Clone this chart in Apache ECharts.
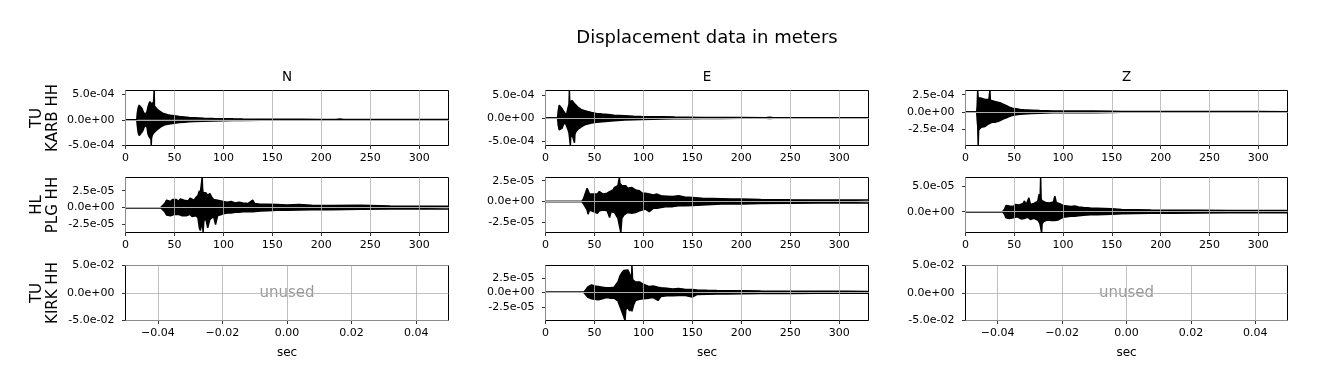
<!DOCTYPE html>
<html><head><meta charset="utf-8">
<script src="https://cdn.jsdelivr.net/npm/echarts@6/dist/echarts.min.js"></script>
<style>html,body{margin:0;padding:0;background:#fff}#c{width:1318px;height:389px}</style>
</head><body><div id="c"></div>
<script>
// ---------------- DATA ----------------
const mainTitle = 'Displacement data in meters';
const rowLabels = ['TU\nKARB HH', 'HL\nPLG HH', 'TU\nKIRK HH'];
const colLabels = ['N', 'E', 'Z'];
const secTicks = [0, 50, 100, 150, 200, 250, 300];
const secRange = [0, 330];
const unusedXTicks = [-0.04, -0.02, 0, 0.02, 0.04];
const unusedYTicks = [-0.05, 0, 0.05];
const unusedRange = [-0.05, 0.05];
const unusedText = 'unused';

// waveform envelopes: [time (s), upper, lower]
// KARB values in units of 1e-4 m
const KARB_N = [[0,0,0],[11.5,0,0],[12,1.2,-1.0],[13,2.4,-2.6],[14,2.9,-3.1],[15,3.1,-3.3],[16,2.6,-2.9],[17,2.2,-2.4],[18,1.6,-2.0],[19,1.4,-1.5],[20,1.0,-1.1],[21,0.7,-0.8],[22,1.6,-1.5],[23,2.6,-2.8],[24,3.2,-3.3],[25,3.6,-3.5],[26,3.3,-3.9],[26.3,3.0,-5.0],[26.6,3.2,-3.6],[27.5,3.4,-3.0],[28.5,3.0,-2.7],[29,2.8,-2.6],[29.3,5.8,-2.5],[29.6,2.7,-2.4],[30.5,2.6,-2.3],[32,2.2,-2.0],[34,1.8,-1.7],[36,1.6,-1.4],[38,1.3,-1.2],[40,1.2,-1.0],[43,1.0,-0.9],[46,0.9,-0.8],[50,0.8,-0.7],[55,0.65,-0.55],[60,0.55,-0.5],[65,0.45,-0.4],[70,0.4,-0.35],[80,0.3,-0.28],[90,0.25,-0.22],[100,0.22,-0.2],[110,0.18,-0.16],[120,0.15,-0.14],[140,0.12,-0.1],[160,0.1,-0.09],[180,0.08,-0.08],[200,0.07,-0.07],[215,0.07,-0.06],[219,0.14,-0.12],[223,0.07,-0.06],[240,0.06,-0.05],[260,0.05,-0.05],[300,0.05,-0.04],[330,0.04,-0.04]];
const KARB_E = [[0,0,0],[12.3,0,0],[13,1.5,-1.5],[14,2.8,-2.6],[15,3.1,-2.8],[16,2.6,-2.5],[17,2.0,-2.2],[18,1.6,-1.6],[19,1.3,-1.2],[20,1.0,-0.9],[21,0.7,-0.7],[22,1.2,-1.3],[23,2.2,-2.5],[24,3.0,-3.2],[24.4,6.0,-3.3],[24.8,3.4,-3.6],[25.4,3.5,-6.0],[25.8,3.8,-3.8],[27,3.8,-3.9],[28,3.5,-4.2],[29.3,3.2,-4.0],[29.6,3.0,-5.4],[30,3.0,-3.6],[31,2.8,-3.0],[33,2.4,-2.5],[35,2.1,-2.2],[37,1.8,-1.9],[40,1.6,-1.5],[43,1.4,-1.3],[47,1.2,-1.1],[52,1.0,-0.95],[58,0.85,-0.8],[64,0.75,-0.7],[70,0.6,-0.6],[81,0.5,-0.45],[90,0.4,-0.38],[98,0.35,-0.32],[110,0.3,-0.27],[120,0.25,-0.22],[132,0.2,-0.18],[145,0.16,-0.15],[160,0.12,-0.11],[180,0.1,-0.09],[200,0.09,-0.08],[225,0.08,-0.07],[229,0.15,-0.1],[233,0.08,-0.07],[260,0.07,-0.06],[300,0.06,-0.05],[330,0.05,-0.05]];
const KARB_Z = [[0,0,0],[11.5,0,0],[12,1.0,-1.2],[12.5,3.1,-2.0],[13,2.0,-4.85],[13.5,1.8,-2.6],[14.5,1.9,-2.4],[16,2.0,-2.2],[18,1.9,-2.3],[20,1.8,-2.1],[22,1.7,-1.9],[24,1.8,-1.7],[25,3.1,-1.7],[25.5,1.7,-1.6],[27,1.6,-1.5],[30,1.5,-1.5],[33,1.4,-1.4],[36,1.3,-1.2],[39,1.1,-1.0],[42,0.9,-0.85],[45,0.7,-0.65],[48,0.55,-0.5],[52,0.45,-0.4],[56,0.35,-0.32],[60,0.3,-0.28],[68,0.25,-0.22],[76,0.2,-0.18],[90,0.15,-0.13],[110,0.13,-0.11],[130,0.12,-0.1],[150,0.11,-0.09],[160,0.07,-0.06],[200,0.06,-0.05],[250,0.05,-0.05],[300,0.05,-0.04],[330,0.04,-0.04]];
// PLG and KIRK values in units of 1e-5 m
const PLG_N = [[0,0,0],[36,0,0],[38,0.3,-0.3],[40,0.6,-0.6],[42,1.1,-1.1],[44,1.2,-1.0],[46,0.9,-1.2],[48,1.2,-1.1],[50,1.0,-1.0],[52,1.2,-1.2],[54,0.9,-1.0],[56,1.3,-1.1],[58,1.5,-1.2],[60,1.1,-1.0],[62,1.3,-1.2],[64,1.0,-1.1],[66,1.4,-1.0],[68,1.2,-1.3],[70,1.1,-1.1],[72,1.5,-1.2],[74,1.8,-1.5],[75.5,2.5,-3.0],[76.5,2.2,-3.4],[77.5,2.4,-3.2],[78.3,4.46,-2.0],[78.8,2.8,-2.2],[79.3,2.2,-3.6],[80,2.0,-2.0],[82,2.2,-1.6],[84,1.8,-3.0],[86,2.1,-1.8],[88,1.6,-1.6],[90,1.2,-1.3],[92,1.4,-2.5],[94,1.1,-1.2],[96,1.0,-1.0],[100,0.9,-0.9],[104,0.8,-0.8],[108,0.9,-0.8],[112,0.7,-0.7],[116,0.8,-0.7],[120,0.7,-0.6],[125,0.6,-0.6],[130,1.1,-0.6],[132,0.6,-0.5],[138,0.5,-0.5],[145,0.5,-0.45],[155,0.45,-0.4],[165,0.4,-0.4],[177,0.45,-0.35],[190,0.35,-0.3],[210,0.3,-0.3],[240,0.35,-0.25],[270,0.25,-0.22],[300,0.22,-0.2],[330,0.2,-0.2]];
const PLG_E = [[0,0,0],[37,0,0],[39,0.4,-0.3],[41,0.6,-0.5],[42.5,1.6,-1.0],[43.5,1.4,-1.5],[45,0.9,-1.0],[47,1.0,-1.1],[49,0.9,-1.2],[51,1.1,-1.0],[53,0.9,-1.4],[55,1.2,-1.1],[57,1.0,-1.3],[59,0.9,-1.0],[61,1.1,-1.2],[63,1.0,-1.1],[65.5,1.2,-1.9],[67,1.1,-1.2],[69,1.4,-1.1],[70.5,1.7,-1.3],[72,1.5,-1.5],[74,1.9,-2.0],[75.5,2.88,-1.8],[76,2.2,-2.2],[77,2.0,-3.69],[78,1.9,-2.0],[80,1.8,-1.6],[82,1.9,-1.5],[84,1.6,-1.3],[86,1.8,-1.5],[88,1.7,-1.4],[90,1.8,-1.4],[92,1.4,-1.3],[94,1.6,-1.2],[96,1.3,-1.1],[99,1.0,-1.0],[102,1.0,-0.9],[106,0.9,-1.2],[110,0.8,-0.8],[114,0.9,-0.8],[118,0.7,-0.7],[124,0.65,-0.6],[130,0.6,-0.6],[136,0.7,-0.5],[142,0.55,-0.5],[150,0.5,-0.45],[160,0.4,-0.4],[170,0.38,-0.35],[180,0.35,-0.3],[190,0.32,-0.3],[201,0.3,-0.28],[220,0.25,-0.22],[250,0.22,-0.2],[280,0.2,-0.18],[310,0.2,-0.18],[330,0.18,-0.16]];
const PLG_Z = [[0,0,0],[38,0,0],[40,0.5,-0.5],[41.5,1.2,-1.2],[43,1.4,-1.5],[45,1.1,-1.3],[47,1.3,-1.1],[49,1.0,-1.2],[51,1.4,-1.3],[53,1.1,-1.0],[55,1.3,-1.2],[57,1.2,-1.4],[59,1.6,-1.2],[60.5,2.1,-1.3],[62,1.3,-1.2],[64,1.5,-1.1],[65,2.7,-1.3],[66.5,1.4,-1.5],[68,1.2,-1.2],[70,1.6,-1.3],[72,1.4,-1.4],[74,2.0,-1.6],[75.5,3.4,-2.0],[76.5,2.5,-2.5],[77,6.64,-2.2],[77.5,2.6,-2.4],[78,2.2,-4.04],[78.5,2.0,-2.4],[80,2.0,-1.9],[82,1.8,-1.8],[84,2.1,-1.6],[86,1.7,-1.8],[88,2.0,-1.7],[90,1.9,-1.6],[91.6,3.0,-1.7],[93,1.8,-1.5],[95,1.6,-1.6],[97,1.5,-1.3],[100,1.2,-1.1],[104,1.1,-1.0],[108,1.0,-0.9],[112,1.1,-0.9],[116,0.9,-0.8],[121,0.8,-0.7],[128,0.7,-0.6],[135,0.65,-0.6],[142,0.6,-0.55],[150,0.55,-0.5],[160,0.45,-0.4],[175,0.4,-0.35],[190,0.35,-0.3],[210,0.3,-0.28],[240,0.28,-0.25],[270,0.25,-0.22],[300,0.25,-0.22],[330,0.22,-0.2]];
const KIRK_E = [[0,0,0],[39,0,0],[41,0.4,-0.3],[43,0.9,-0.8],[45,1.0,-1.0],[47,1.3,-1.1],[48,1.6,-1.0],[50,1.1,-1.2],[52,0.9,-1.0],[54,1.0,-1.3],[56,1.2,-1.0],[58,0.9,-1.1],[60,1.0,-1.0],[62,0.8,-0.9],[64,0.9,-1.1],[66,0.8,-1.0],[68,1.0,-0.9],[70,0.9,-1.0],[72,1.2,-1.1],[74,1.8,-1.5],[76,2.8,-2.4],[78,3.4,-3.3],[80,3.8,-3.0],[81.3,3.9,-4.88],[82,3.8,-3.0],[84,3.9,-2.6],[86,3.2,-3.2],[88,2.4,-2.8],[88.3,4.66,-3.3],[89,2.2,-3.2],[90,2.0,-2.2],[92,1.8,-1.4],[94,1.9,-1.3],[96,1.8,-1.2],[98,1.5,-1.3],[100,1.4,-1.1],[102,1.2,-1.0],[106,1.0,-1.0],[110,1.1,-0.9],[115,0.9,-1.4],[118,0.8,-0.7],[124,0.7,-0.6],[130,0.6,-0.6],[136,0.65,-0.55],[142,0.55,-0.5],[150,0.5,-0.8],[155,0.4,-0.35],[165,0.35,-0.32],[175,0.32,-0.3],[185,0.3,-0.28],[201,0.28,-0.25],[220,0.22,-0.2],[250,0.2,-0.18],[280,0.18,-0.16],[310,0.18,-0.15],[330,0.15,-0.15]];

// y-axis limits (m) and tick values
const KARB_N_yRange = [-5.1e-4, 5.8e-4], KARB_N_yTicks = [-5e-4, 0, 5e-4];
const KARB_E_yRange = [-6.0e-4, 6.0e-4], KARB_E_yTicks = [-5e-4, 0, 5e-4];
const KARB_Z_yRange = [-4.85e-4, 3.1e-4], KARB_Z_yTicks = [-2.5e-4, 0, 2.5e-4];
const PLG_N_yRange = [-3.68e-5, 4.46e-5], PLG_N_yTicks = [-2.5e-5, 0, 2.5e-5];
const PLG_E_yRange = [-3.69e-5, 2.88e-5], PLG_E_yTicks = [-2.5e-5, 0, 2.5e-5];
const PLG_Z_yRange = [-4.04e-5, 6.64e-5], PLG_Z_yTicks = [0, 5e-5];
const KIRK_E_yRange = [-4.88e-5, 4.66e-5], KIRK_E_yTicks = [-2.5e-5, 0, 2.5e-5];

// ---------------- LAYOUT ----------------
const colLeft = [125.5, 545.5, 965.5];
const colWidth = [323, 323, 322];
const rowTop = [90.5, 177.5, 265.5];
const panelH = 55;
const FONT = '"DejaVu Sans", sans-serif';

const panels = [
  {row:0, col:0, env:KARB_N, unit:1e-4, yr:KARB_N_yRange, yt:KARB_N_yTicks},
  {row:0, col:1, env:KARB_E, unit:1e-4, yr:KARB_E_yRange, yt:KARB_E_yTicks},
  {row:0, col:2, env:KARB_Z, unit:1e-4, yr:KARB_Z_yRange, yt:KARB_Z_yTicks},
  {row:1, col:0, env:PLG_N, unit:1e-5, yr:PLG_N_yRange, yt:PLG_N_yTicks},
  {row:1, col:1, env:PLG_E, unit:1e-5, yr:PLG_E_yRange, yt:PLG_E_yTicks},
  {row:1, col:2, env:PLG_Z, unit:1e-5, yr:PLG_Z_yRange, yt:PLG_Z_yTicks},
  {row:2, col:0, unused:true},
  {row:2, col:1, env:KIRK_E, unit:1e-5, yr:KIRK_E_yRange, yt:KIRK_E_yTicks},
  {row:2, col:2, unused:true}
];

function sci(v) {
  if (Math.abs(v) < 1e-15) return '0.0e+00';
  const s = v.toExponential(1);
  return s.replace(/e([+-])(\d)$/, 'e$10$2');
}
function fixed2(v) {
  const s = (Math.abs(v) < 1e-12 ? 0 : v).toFixed(2);
  return s.replace('-', '\u2212');
}

const grids = [], xAxes = [], yAxes = [], series = [];
const tickStyle = {show:true, inside:false, length:3.5, lineStyle:{color:'#000', width:0.8}};
const axisLineStyle = {show:false, onZero:false};
const labelBase = {color:'#000', fontSize:11, fontFamily:FONT};

panels.forEach((p, i) => {
  grids.push({left:colLeft[p.col], top:rowTop[p.row], width:colWidth[p.col], height:panelH,
    show:true, borderColor:'#000', borderWidth:1, backgroundColor:'rgba(0,0,0,0)', containLabel:false});
  const xr = p.unused ? unusedRange : secRange;
  const xt = p.unused ? unusedXTicks : secTicks;
  const yr = p.unused ? unusedRange : p.yr;
  const yt = p.unused ? unusedYTicks : p.yt;
  xAxes.push({type:'value', gridIndex:i, min:xr[0], max:xr[1],
    axisLine:axisLineStyle,
    axisTick:Object.assign({customValues:xt}, tickStyle),
    axisLabel:Object.assign({customValues:xt, margin:7,
      formatter: p.unused ? fixed2 : (v => String(Math.round(v)))}, labelBase),
    splitLine:{show:false},
    name: p.row === 2 ? 'sec' : '', nameLocation:'middle', nameGap:26,
    nameTextStyle:{color:'#000', fontSize:12, fontFamily:FONT}
  });
  yAxes.push({type:'value', gridIndex:i, min:yr[0], max:yr[1],
    axisLine:axisLineStyle,
    axisTick:Object.assign({customValues:yt}, tickStyle),
    axisLabel:Object.assign({customValues:yt, margin:11, formatter:sci}, labelBase),
    splitLine:{show:false},
    name: p.col === 0 ? rowLabels[p.row] : '', nameLocation:'middle', nameRotate:90, nameGap:64,
    nameTextStyle:{color:'#000', fontSize:15, lineHeight:16, fontFamily:FONT}
  });
  // grid lines at the tick values (drawn beneath the traces)
  series.push({type:'line', xAxisIndex:i, yAxisIndex:i, data:[], z:1, silent:true, animation:false,
    markLine:{silent:true, symbol:['none','none'], label:{show:false}, animation:false,
      lineStyle:{color:'#b0b0b0', width:0.8, type:'solid'},
      emphasis:{disabled:true},
      data: xt.map(v => ({xAxis:v})).concat(yt.map(v => ({yAxis:v})))}});
  if (p.unused) {
    series.push({type:'scatter', xAxisIndex:i, yAxisIndex:i, data:[[0,0]], symbolSize:1, z:3,
      itemStyle:{color:'rgba(0,0,0,0)'}, silent:true, animation:false,
      label:{show:true, position:'inside', formatter:unusedText, color:'#808080', fontSize:15, fontFamily:FONT}});
  } else {
    const up = p.env.map(d => [d[0], d[1] * p.unit]);
    const lo = p.env.map(d => [d[0], d[2] * p.unit]);
    [up, lo].forEach(data => series.push({type:'line', xAxisIndex:i, yAxisIndex:i, data:data, z:3,
      symbol:'none', showSymbol:false, clip:true, silent:true, animation:false,
      lineStyle:{color:'#000', width:1.5}, areaStyle:{color:'#000', opacity:1}}));
  }
});

const graphics = [{type:'text', x:707, y:38.5, silent:true,
  style:{text:mainTitle, fill:'#000', font:'18px ' + FONT, align:'center', verticalAlign:'middle'}}];
colLabels.forEach((t, c) => graphics.push({type:'text', x:colLeft[c] + colWidth[c] / 2, y:77, silent:true,
  style:{text:t, fill:'#000', font:'13.5px ' + FONT, align:'center', verticalAlign:'middle'}}));

const chart = echarts.init(document.getElementById('c'), null, {renderer:'canvas'});
chart.setOption({
  animation:false,
  backgroundColor:'#fff',
  grid:grids, xAxis:xAxes, yAxis:yAxes, series:series, graphic:graphics
});
</script></body></html>
